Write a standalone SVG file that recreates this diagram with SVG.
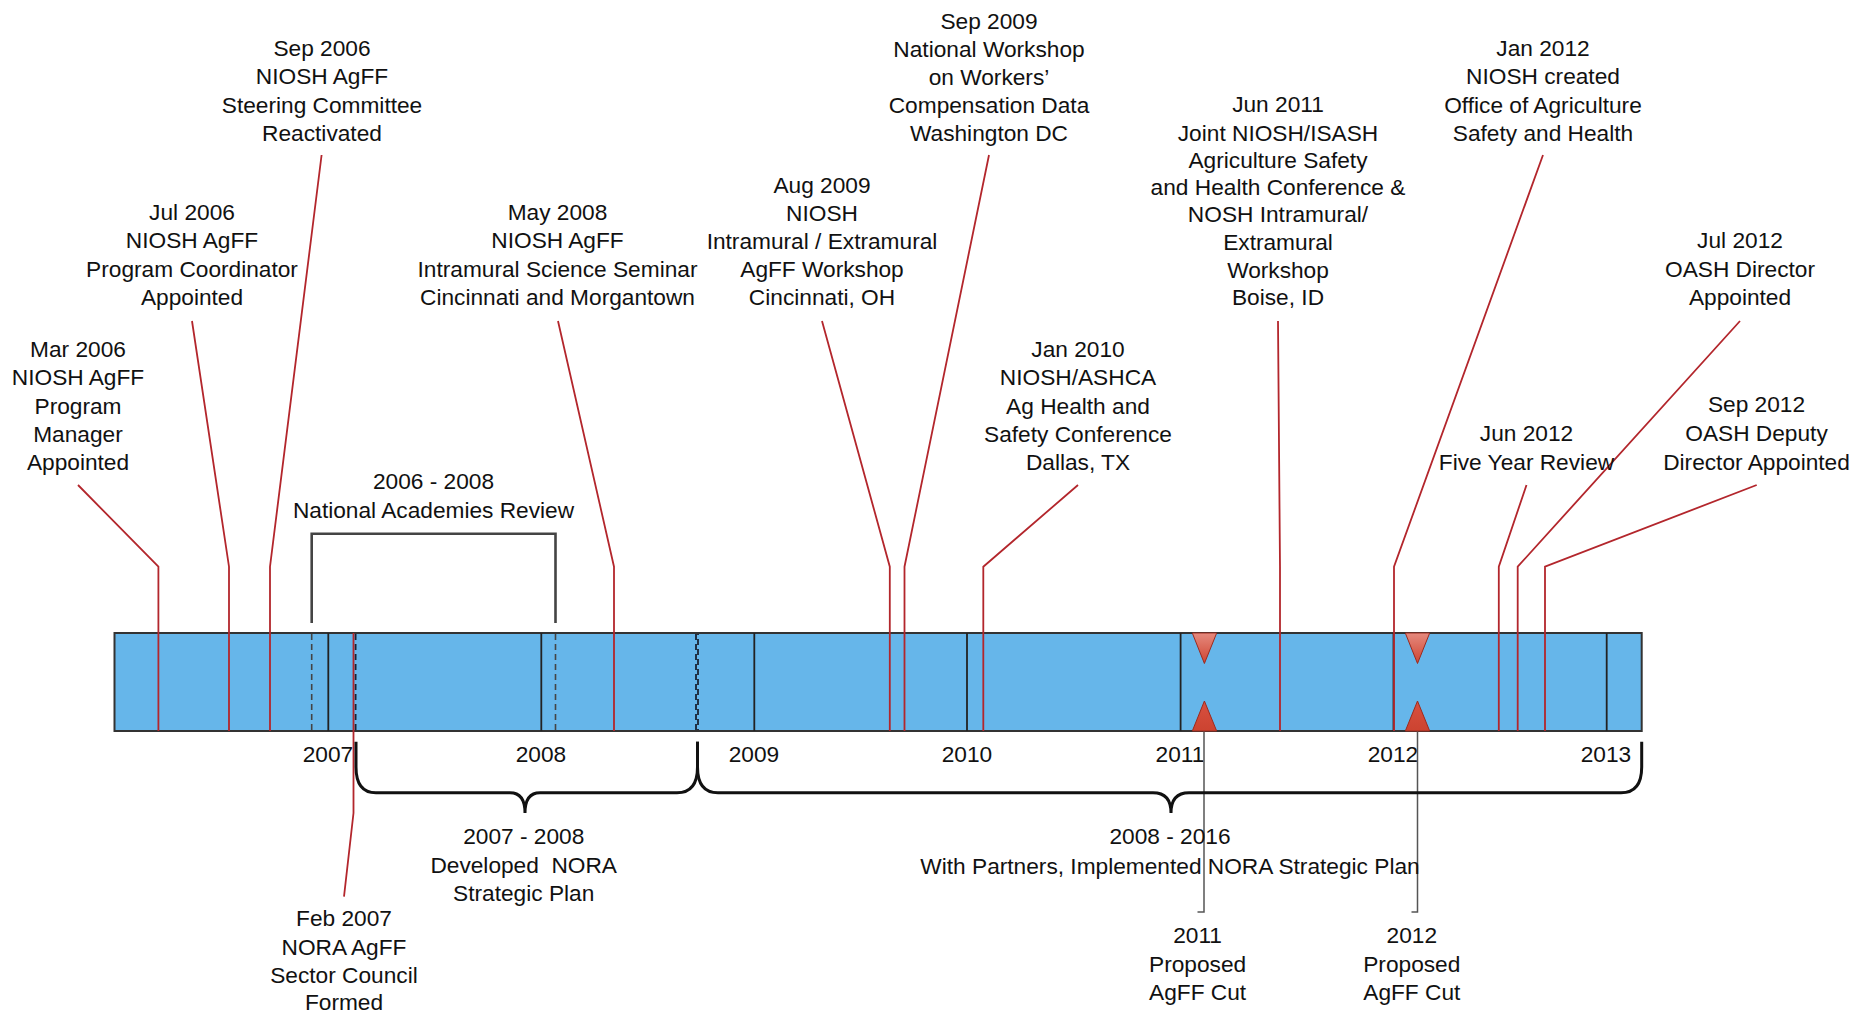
<svg xmlns="http://www.w3.org/2000/svg" width="1871" height="1015" viewBox="0 0 1871 1015">
<style>
text{font-family:"Liberation Sans",Arial,sans-serif;font-size:22.7px;fill:#111;text-anchor:middle}
.lead{fill:none;stroke:#b3262c;stroke-width:1.8}
.tick{stroke:#222;stroke-width:1.8}
.brace{fill:none;stroke:#111;stroke-width:3}
.bracket{fill:none;stroke:#444;stroke-width:2.6}
.dash{stroke:#444;stroke-width:1.6;stroke-dasharray:6 4}
.dashk{stroke:#1a2333;stroke-width:1.8;stroke-dasharray:6 4}
.cut{fill:none;stroke:#555;stroke-width:1.5}
.tri{stroke:#9c2a1e;stroke-width:1}
</style>
<defs>
<linearGradient id="gTop" x1="0" y1="0" x2="0" y2="1">
<stop offset="0" stop-color="#e58a7e"/>
<stop offset="1" stop-color="#cf4431"/>
</linearGradient>
<linearGradient id="gBot" x1="0" y1="0" x2="0" y2="1">
<stop offset="0" stop-color="#d85040"/>
<stop offset="1" stop-color="#cc4330"/>
</linearGradient>
</defs>

<g id="timeline-bar">
<rect x="114.5" y="633" width="1527.2" height="98" fill="#66b6ea" stroke="#333" stroke-width="2"/>
<line class="tick" x1="328.3" y1="633" x2="328.3" y2="731"/>
<line class="tick" x1="541.3" y1="633" x2="541.3" y2="731"/>
<line class="tick" x1="754.3" y1="633" x2="754.3" y2="731"/>
<line class="tick" x1="967" y1="633" x2="967" y2="731"/>
<line class="tick" x1="1180.6" y1="633" x2="1180.6" y2="731"/>
<line class="tick" x1="1393.5" y1="633" x2="1393.5" y2="731"/>
<line class="tick" x1="1606.7" y1="633" x2="1606.7" y2="731"/>
<line class="dash" x1="311.7" y1="634" x2="311.7" y2="730"/>
<line class="dash" x1="555.5" y1="634" x2="555.5" y2="730"/>
<line class="dashk" x1="355.6" y1="634" x2="355.6" y2="730"/>
<line class="dashk" x1="696" y1="634" x2="696" y2="730"/>
<line class="dashk" x1="698" y1="634" x2="698" y2="730" stroke-dashoffset="5"/>
</g>

<g id="years">
<text x="328" y="762">2007</text>
<text x="541" y="762">2008</text>
<text x="754" y="762">2009</text>
<text x="967" y="762">2010</text>
<text x="1180" y="762">2011</text>
<text x="1393" y="762">2012</text>
<text x="1606" y="762">2013</text>
</g>

<g id="connectors">
<polyline class="lead" points="78,485 158.4,566.7 158.4,731"/>
<polyline class="lead" points="192,321 229,566.7 229,731"/>
<polyline class="lead" points="321.6,155 270,566.7 270,731"/>
<polyline class="lead" points="558,321 614,566.7 614,731"/>
<polyline class="lead" points="822,321 889.8,566.7 889.8,731"/>
<polyline class="lead" points="989,155 904.5,566.7 904.5,731"/>
<polyline class="lead" points="1078,485 983.3,566.7 983.3,731"/>
<polyline class="lead" points="1278,321 1280,566.7 1280,731"/>
<polyline class="lead" points="1543,155 1394,566.7 1394,731"/>
<polyline class="lead" points="1526.5,485 1498.8,566.7 1498.8,731"/>
<polyline class="lead" points="1740,321 1517.7,566.7 1517.7,731"/>
<polyline class="lead" points="1756.7,485 1545,566.7 1545,731"/>
<polyline class="lead" points="344,896.7 353.5,813 353.5,633"/>
<polyline class="cut" points="1204,731 1204,912 1197.5,912"/>
<polyline class="cut" points="1417.5,731 1417.5,912 1411.5,912"/>
<path class="bracket" d="M311.7,623 L311.7,533.7 L555.5,533.7 L555.5,623"/>
<path class="brace" d="M356,741.7 L356,767 Q356,792.8 376,792.8 L510,792.8 Q525,792.8 525,813 Q525,792.8 540,792.8 L677,792.8 Q697.5,792.8 697.5,767 L697.5,741.7"/>
<path class="brace" d="M697.5,741.7 L697.5,767 Q697.5,792.8 718,792.8 L1153,792.8 Q1171,792.8 1171,813 Q1171,792.8 1189,792.8 L1621,792.8 Q1641.7,792.8 1641.7,767 L1641.7,741.7"/>
</g>

<g id="cut-2011">
<polygon class="tri" points="1192.3,633 1216.7,633 1204.4,663.5" fill="url(#gTop)"/>
<polygon class="tri" points="1192.3,731 1216.7,731 1204.4,701" fill="url(#gBot)"/>
<text x="1197.6" y="943">2011</text>
<text x="1197.6" y="972">Proposed</text>
<text x="1197.6" y="1000">AgFF Cut</text>
</g>
<g id="cut-2012">
<polygon class="tri" points="1405.3,633 1429.7,633 1417.5,663.5" fill="url(#gTop)"/>
<polygon class="tri" points="1405.3,731 1429.7,731 1417.5,701" fill="url(#gBot)"/>
<text x="1411.8" y="943">2012</text>
<text x="1411.8" y="972">Proposed</text>
<text x="1411.8" y="1000">AgFF Cut</text>
</g>

<g id="mar2006">
<text x="78" y="357">Mar 2006</text>
<text x="78" y="385.3">NIOSH AgFF</text>
<text x="78" y="413.5">Program</text>
<text x="78" y="441.8">Manager</text>
<text x="78" y="470">Appointed</text>
</g>
<g id="jul2006">
<text x="192" y="220">Jul 2006</text>
<text x="192" y="248.3">NIOSH AgFF</text>
<text x="192" y="276.6">Program Coordinator</text>
<text x="192" y="305">Appointed</text>
</g>
<g id="sep2006">
<text x="322" y="56">Sep 2006</text>
<text x="322" y="84.3">NIOSH AgFF</text>
<text x="322" y="112.6">Steering Committee</text>
<text x="322" y="141">Reactivated</text>
</g>
<g id="nas-review">
<text x="433.5" y="489">2006 - 2008</text>
<text x="433.5" y="518">National Academies Review</text>
</g>
<g id="may2008">
<text x="557.5" y="220">May 2008</text>
<text x="557.5" y="248.3">NIOSH AgFF</text>
<text x="557.5" y="276.6">Intramural Science Seminar</text>
<text x="557.5" y="305">Cincinnati and Morgantown</text>
</g>
<g id="aug2009">
<text x="822" y="193">Aug 2009</text>
<text x="822" y="221">NIOSH</text>
<text x="822" y="249">Intramural / Extramural</text>
<text x="822" y="277">AgFF Workshop</text>
<text x="822" y="305">Cincinnati, OH</text>
</g>
<g id="sep2009">
<text x="989" y="29">Sep 2009</text>
<text x="989" y="57">National Workshop</text>
<text x="989" y="85">on Workers’</text>
<text x="989" y="113">Compensation Data</text>
<text x="989" y="141">Washington DC</text>
</g>
<g id="jan2010">
<text x="1078" y="357">Jan 2010</text>
<text x="1078" y="385.3">NIOSH/ASHCA</text>
<text x="1078" y="413.5">Ag Health and</text>
<text x="1078" y="441.8">Safety Conference</text>
<text x="1078" y="470">Dallas, TX</text>
</g>
<g id="jun2011">
<text x="1278" y="112">Jun 2011</text>
<text x="1278" y="140.6">Joint NIOSH/ISASH</text>
<text x="1278" y="168">Agriculture Safety</text>
<text x="1278" y="195">and Health Conference &amp;</text>
<text x="1278" y="222.4">NOSH Intramural/</text>
<text x="1278" y="250">Extramural</text>
<text x="1278" y="277.6">Workshop</text>
<text x="1278" y="305">Boise, ID</text>
</g>
<g id="jan2012">
<text x="1543" y="56">Jan 2012</text>
<text x="1543" y="84.3">NIOSH created</text>
<text x="1543" y="112.6">Office of Agriculture</text>
<text x="1543" y="141">Safety and Health</text>
</g>
<g id="jun2012">
<text x="1526.5" y="440.5">Jun 2012</text>
<text x="1526.5" y="470">Five Year Review</text>
</g>
<g id="jul2012">
<text x="1740" y="248.3">Jul 2012</text>
<text x="1740" y="276.6">OASH Director</text>
<text x="1740" y="305">Appointed</text>
</g>
<g id="sep2012">
<text x="1756.5" y="412">Sep 2012</text>
<text x="1756.5" y="441.3">OASH Deputy</text>
<text x="1756.5" y="470">Director Appointed</text>
</g>
<g id="plan-2007-2008">
<text x="523.7" y="844">2007 - 2008</text>
<text x="523.7" y="872.5" xml:space="preserve">Developed  NORA</text>
<text x="523.7" y="901">Strategic Plan</text>
</g>
<g id="plan-2008-2016">
<text x="1170" y="844">2008 - 2016</text>
<text x="1170" y="874">With Partners, Implemented NORA Strategic Plan</text>
</g>
<g id="feb2007">
<text x="344" y="926">Feb 2007</text>
<text x="344" y="955">NORA AgFF</text>
<text x="344" y="983">Sector Council</text>
<text x="344" y="1010">Formed</text>
</g>
</svg>
